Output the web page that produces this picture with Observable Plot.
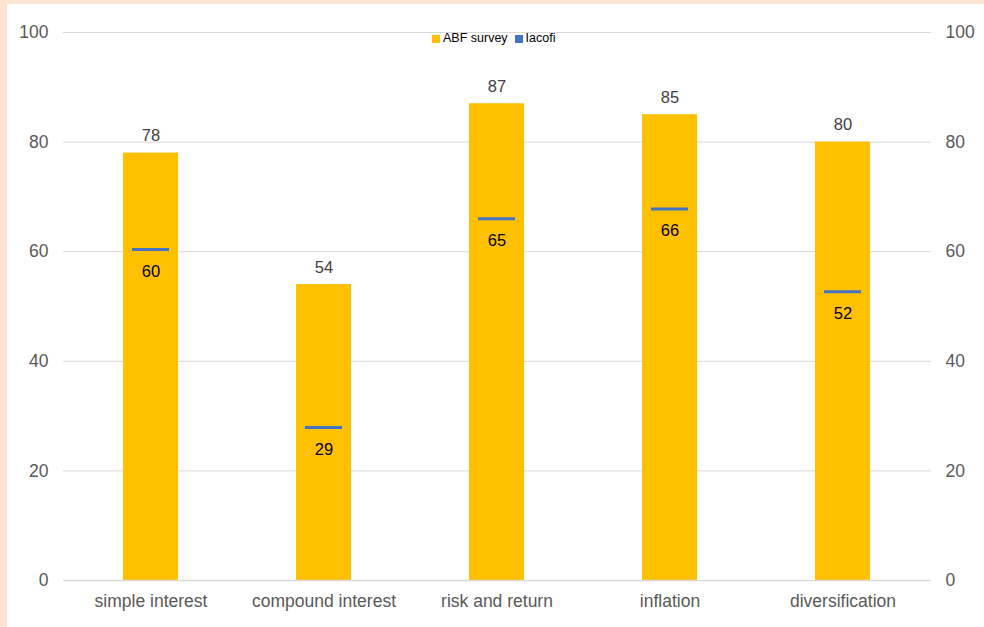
<!DOCTYPE html>
<html>
<head>
<meta charset="utf-8">
<script src="https://cdn.jsdelivr.net/npm/d3@7"></script>
<script src="https://cdn.jsdelivr.net/npm/@observablehq/plot@0.6"></script>
<style>
  html, body { margin: 0; padding: 0; background: #FCE5D2; }
  #wrap { position: absolute; left: 7px; top: 4px; width: 977px; height: 623px; background: #ffffff; }
  #legend { position: absolute; top: 25px; left: 425px; font-family: "Liberation Sans", Arial, sans-serif; font-size: 12.5px; color: #000; white-space: nowrap; line-height: 16px; }
  #legend .item { display: inline-block; margin-right: 7px; vertical-align: middle; }
  #legend svg { display: inline-block; vertical-align: -1px; margin-right: 3px; }
  #chart svg { display: block; }
</style>
</head>
<body>
<div id="wrap">
  <div id="chart"></div>
  <div id="legend"></div>
</div>
<script>
const categories = ["simple interest", "compound interest", "risk and return", "inflation", "diversification"];
const abfSurvey = [78, 54, 87, 85, 80];
const iacofiValues = [60.4, 27.9, 66, 67.8, 52.7];
const iacofiLabels = ["60", "29", "65", "66", "52"];
const yTicks = [0, 20, 40, 60, 80, 100];
const seriesNames = ["ABF survey", "Iacofi"];
const seriesColors = ["#FFC000", "#4472C4"];

const data = categories.map((c, i) => ({
  category: c, abf: abfSurvey[i], iacofi: iacofiValues[i], iacofiLabel: iacofiLabels[i]
}));

const font = "Liberation Sans, Arial, sans-serif";

const chart = Plot.plot({
  width: 977,
  height: 623,
  marginLeft: 56,
  marginRight: 53,
  marginTop: 28,
  marginBottom: 47,
  style: { fontFamily: font, fontSize: "16px", background: "#ffffff", color: "#595959" },
  x: { domain: categories, paddingInner: 0.68, paddingOuter: 0.34, label: null },
  y: { domain: [0, 100], label: null },
  marks: [
    Plot.gridY(yTicks, { stroke: "#d9d9d9", strokeOpacity: 1, strokeWidth: 1 }),
    Plot.axisY(yTicks, { anchor: "left", tickSize: 0, tickPadding: 15, label: null, fontSize: 17.5, fill: "#595959" }),
    Plot.axisY(yTicks, { anchor: "right", tickSize: 0, tickPadding: 14, label: null, fontSize: 17.5, fill: "#595959" }),
    Plot.axisX({ tickSize: 0, tickPadding: 14, label: null, fontSize: 17.5, fill: "#595959" }),
    Plot.barY(data, { x: "category", y: "abf", fill: seriesColors[0] }),
    Plot.ruleY([0], { stroke: "#d9d9d9", strokeWidth: 1.5 }),
    Plot.text(data, { x: "category", y: "abf", text: d => String(d.abf), dy: -17, fill: "#404040", fontSize: 16.5 }),
    Plot.tickY(data, { x: "category", y: "iacofi", stroke: seriesColors[1], strokeWidth: 3, insetLeft: 9, insetRight: 9 }),
    Plot.text(data, { x: "category", y: "iacofi", text: "iacofiLabel", dy: 22, fill: "#000000", fontSize: 16.5 })
  ]
});
document.getElementById("chart").appendChild(chart);

const legend = d3.select("#legend");
seriesNames.forEach((n, i) => {
  const item = legend.append("span").attr("class", "item");
  item.append("svg").attr("width", 8).attr("height", 8)
    .append("rect").attr("width", 8).attr("height", 8).attr("fill", seriesColors[i]);
  item.append("span").text(n);
});
</script>
</body>
</html>
